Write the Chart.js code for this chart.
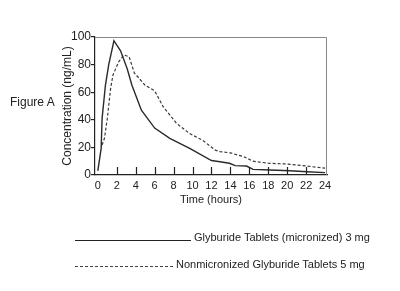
<!DOCTYPE html>
<html>
<head>
<meta charset="utf-8">
<script src="https://cdn.jsdelivr.net/npm/chart.js@4/dist/chart.umd.min.js"></script>
<style>
  html, body { margin: 0; padding: 0; background: #fff; }
  #wrap { position: relative; width: 400px; height: 291px; overflow: hidden; font-family: "Liberation Sans", Arial, sans-serif; color: #222; }
  #c { position: absolute; left: 0; top: 0; }
  .txt { position: absolute; font-size: 11px; white-space: nowrap; line-height: 13px; }
  #fig { left: 10px; top: 96px; font-size: 12px; }
  .ln { position: absolute; height: 0; }
  #l1 { left: 75px; top: 240px; width: 116px; border-top: 1px solid #222; }
  #l2 { left: 75px; top: 266px; width: 98px; border-top: 1px dashed #444; }
  #t1 { left: 194px; top: 231px; }
  #t2 { left: 176px; top: 258px; }
</style>
</head>
<body>
<div id="wrap">
  <canvas id="c" width="400" height="291"></canvas>
  <div class="txt" id="fig">Figure A</div>
  <div class="ln" id="l1"></div>
  <div class="txt" id="t1">Glyburide Tablets (micronized) 3 mg</div>
  <div class="ln" id="l2"></div>
  <div class="txt" id="t2">Nonmicronized Glyburide Tablets 5 mg</div>
</div>
<script>
// Time (hours) and concentration (ng/mL)
const microTime = [0, 0.35, 0.45, 0.8, 1.15, 1.7, 2.4, 3.1, 3.6, 4.6, 6.0, 7.6, 9.7, 12.0, 12.9, 13.9, 14.5, 15.7, 16.4, 18.2, 20.3, 22.1, 24];
const microConc = [3, 19.3, 41, 65, 80, 97.3, 90, 77, 65, 47, 34, 26.6, 19.3, 10.5, 9.6, 8.5, 6.8, 6.5, 4.1, 3.6, 3.1, 2.4, 1.7];
const nonmicroTime = [0.45, 0.7, 1.0, 1.35, 1.6, 2.2, 2.75, 3.3, 3.85, 5.0, 6.0, 6.9, 8.3, 9.7, 11.1, 12.4, 12.9, 14.0, 15.4, 16.4, 18.0, 19.9, 22.0, 24];
const nonmicroConc = [21.7, 26.6, 41, 62.8, 72.5, 82, 87, 85.7, 74, 65, 61, 49.5, 37.5, 30, 25, 18, 17, 16, 13.3, 10, 8.5, 8, 6.5, 5];
const xTicks = [0, 2, 4, 6, 8, 10, 12, 14, 16, 18, 20, 22, 24];
const yTicks = [0, 20, 40, 60, 80, 100];
const seriesNames = ["Glyburide Tablets (micronized) 3 mg", "Nonmicronized Glyburide Tablets 5 mg"];

const toPts = (xs, ys) => xs.map((x, i) => ({ x: x, y: ys[i] }));

const frameAndTicks = {
  id: 'frameAndTicks',
  afterDatasetsDraw(chart) {
    const ctx = chart.ctx, a = chart.chartArea, xs = chart.scales.x;
    ctx.save();
    ctx.strokeStyle = '#888';
    ctx.lineWidth = 1;
    ctx.beginPath();
    ctx.moveTo(a.left, a.top + 0.5);
    ctx.lineTo(a.right - 0.5, a.top + 0.5);
    ctx.lineTo(a.right - 0.5, a.bottom);
    ctx.stroke();
    ctx.strokeStyle = '#222';
    ctx.lineWidth = 1.2;
    ctx.beginPath();
    xTicks.forEach(v => {
      if (v === 0 || v === 24) return;
      const px = Math.round(xs.getPixelForValue(v)) + 0.5;
      ctx.moveTo(px, a.bottom);
      ctx.lineTo(px, a.bottom - 8);
    });
    ctx.stroke();
    ctx.restore();
  }
};

new Chart(document.getElementById('c'), {
  type: 'line',
  data: {
    datasets: [
      { label: seriesNames[0], data: toPts(microTime, microConc), borderColor: '#2a2a2a', borderWidth: 1.4, pointRadius: 0, tension: 0, fill: false },
      { label: seriesNames[1], data: toPts(nonmicroTime, nonmicroConc), borderColor: '#3a3a3a', borderWidth: 1.2, borderDash: [3, 2], pointRadius: 0, tension: 0, fill: false }
    ]
  },
  options: {
    responsive: false,
    devicePixelRatio: 1,
    animation: false,
    layout: { padding: { left: 56, top: 37, right: 73, bottom: 81 } },
    plugins: { legend: { display: false }, tooltip: { enabled: false } },
    scales: {
      x: {
        type: 'linear', min: -0.3, max: 24.2,
        afterBuildTicks: s => { s.ticks = xTicks.map(v => ({ value: v })); },
        afterFit: s => { s.height = 35; },
        grid: { display: false, drawTicks: false, tickLength: 0 },
        border: { display: true, color: '#222', width: 1.2 },
        ticks: { padding: 4, color: '#222', font: { family: 'Liberation Sans', size: 11 }, maxRotation: 0, autoSkip: false },
        title: { display: true, text: 'Time (hours)', color: '#222', font: { family: 'Liberation Sans', size: 11 }, padding: { top: 2, bottom: 3 } }
      },
      y: {
        min: 0, max: 100,
        afterBuildTicks: s => { s.ticks = yTicks.map(v => ({ value: v })); },
        afterFit: s => { s.width = 39; },
        grid: { drawOnChartArea: false, drawTicks: true, tickLength: 4, color: '#222', lineWidth: 1.2 },
        border: { display: true, color: '#222', width: 1.2 },
        ticks: { padding: 0, color: '#222', font: { family: 'Liberation Sans', size: 12 } },
        title: { display: true, text: 'Concentration (ng/mL)', color: '#222', font: { family: 'Liberation Sans', size: 12 }, padding: { top: 4, bottom: 2 } }
      }
    }
  },
  plugins: [frameAndTicks]
});
</script>
</body>
</html>
